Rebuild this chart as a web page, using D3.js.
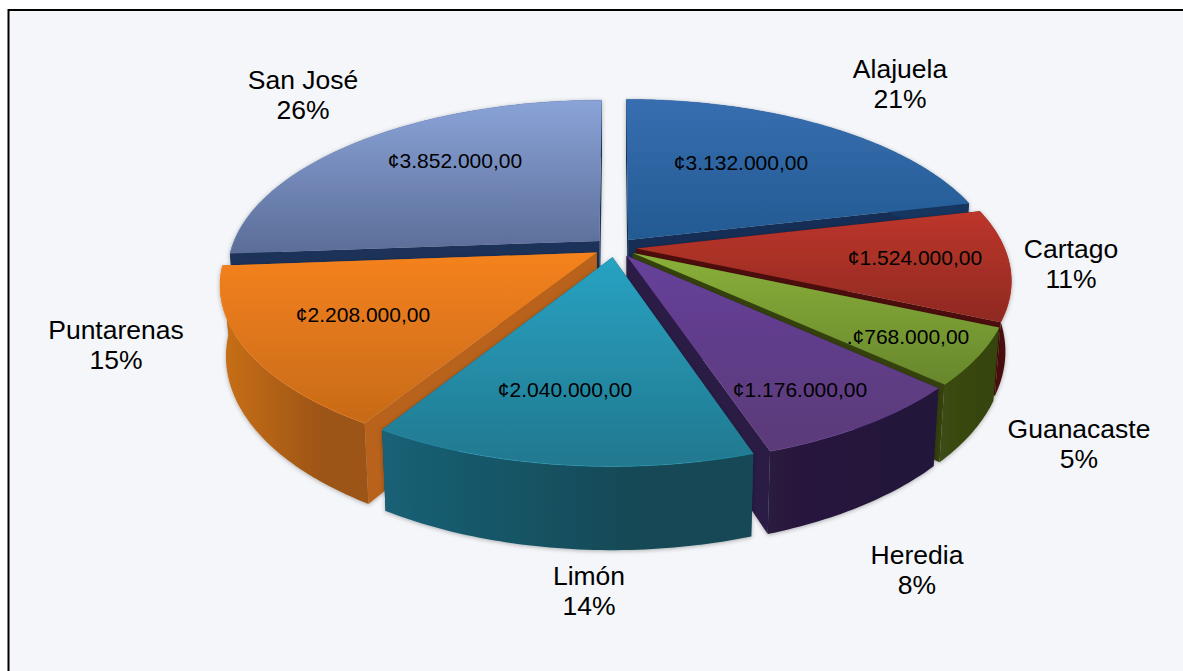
<!DOCTYPE html>
<html>
<head>
<meta charset="utf-8">
<style>
html, body { margin: 0; padding: 0; background: #fff; }
svg { display: block; }
svg text { font-family: "Liberation Sans", Arial, sans-serif; fill: #000; text-anchor: middle; }
.name { font-size: 26.5px; }
.amount { font-size: 21px; }
</style>
</head>
<body>
<div id="container"></div>
<script src="https://d3js.org/d3.v7.min.js"></script>
<script>
const width = 1183, height = 671;

const names = ["Alajuela", "Cartago", "Guanacaste", "Heredia", "Limón", "Puntarenas", "San José"];
const amounts = [3132000, 1524000, 768000, 1176000, 2040000, 2208000, 3852000];
const amountLabels = ["¢3.132.000,00", "¢1.524.000,00", ".¢768.000,00", "¢1.176.000,00", "¢2.040.000,00", "¢2.208.000,00", "¢3.852.000,00"];
const percents = ["21%", "11%", "5%", "8%", "14%", "15%", "26%"];

// colours: top light, top dark, wall left, wall right, cut face
const topLight = ["#376eb0", "#bd352b", "#8ab03a", "#66409a", "#28a2c2", "#f5821f", "#8aa3d8"];
const topDark = ["#235a92", "#8f2a22", "#67872c", "#5b3a78", "#22788f", "#c76a18", "#5b6d97"];
const wallLeft = ["#17365f", "#5c1410", "#3c4c12", "#2a1a3e", "#1a6176", "#c9701a", "#1f3358"];
const wallRight = ["#17365f", "#4a0f0d", "#364410", "#24163a", "#134855", "#9c5412", "#1f3358"];
const cutFace = ["#122f55", "#4d0f0c", "#35430f", "#2b1a45", "#134855", "#b8621a", "#1f3358"];

// label placement, same order as names
const nameX = [900, 1071, 1079, 917, 589, 116, 303];
const nameY = [78, 258, 438, 564, 585, 339, 89];
const amountX = [741, 915, 908, 800, 565, 363, 455];
const amountY = [170, 265, 344, 397, 397, 322, 168];

// order the slices get painted, back to front
const paintOrder = [6, 0, 1, 2, 3, 5, 4];

const cx = 615, cy = 247.5;
const rx = 368, ry = 168;
const persp = 0.178, explode = 0.058, depth = 68, shrink = 0.985;

// flat pie coordinates -> screen, with perspective to the front
function project(px, pz, drop) {
    const w = 1 - persp * pz;
    const f = drop ? shrink : 1;
    return [cx + f * rx * px / w, cy + (ry * pz + (drop || 0)) / w];
}

const pieData = d3.pie().sort(null).value(d => d).startAngle(0).endAngle(2 * Math.PI)(amounts);

function apexOf(d) {
    const m = (d.startAngle + d.endAngle) / 2;
    return [explode * Math.sin(m), -explode * Math.cos(m)];
}
function rimPoint(d, a) {
    const o = apexOf(d);
    return [o[0] + Math.sin(a), o[1] - Math.cos(a)];
}
function rimAngles(d) {
    const n = Math.ceil((d.endAngle - d.startAngle) * 60);
    return d3.range(n + 1).map(i => d.startAngle + (d.endAngle - d.startAngle) * i / n);
}

const line = d3.line();

const svg = d3.select("#container").append("svg")
    .attr("width", width).attr("height", height);

const defs = svg.append("defs");
defs.append("filter").attr("id", "soft")
    .attr("x", "-5%").attr("y", "-5%").attr("width", "110%").attr("height", "110%")
    .append("feGaussianBlur").attr("stdDeviation", 0.6);
defs.append("filter").attr("id", "shadow")
    .attr("x", "-10%").attr("y", "-10%").attr("width", "120%").attr("height", "120%")
    .append("feDropShadow")
    .attr("dx", 0).attr("dy", 1).attr("stdDeviation", 2)
    .attr("flood-color", "#000").attr("flood-opacity", 0.3);

// panel has only a left and top edge, it runs off the page on the others
svg.append("rect")
    .attr("x", 8).attr("y", 9)
    .attr("width", width - 8).attr("height", height - 9)
    .attr("fill", "#f4f6f9");
svg.append("path")
    .attr("d", line([[8.5, height], [8.5, 10], [width, 10]]))
    .attr("fill", "none").attr("stroke", "#000").attr("stroke-width", 2);

pieData.forEach((d, i) => {
    const t = defs.append("linearGradient").attr("id", "top" + i)
        .attr("x1", 0).attr("y1", 0).attr("x2", 0).attr("y2", 1);
    t.append("stop").attr("offset", 0).attr("stop-color", topLight[i]);
    t.append("stop").attr("offset", 1).attr("stop-color", topDark[i]);
    const s = defs.append("linearGradient").attr("id", "wall" + i)
        .attr("x1", 0).attr("y1", 0).attr("x2", 1).attr("y2", 0);
    s.append("stop").attr("offset", 0).attr("stop-color", wallLeft[i]);
    s.append("stop").attr("offset", 0.7).attr("stop-color", wallRight[i]);
    s.append("stop").attr("offset", 1).attr("stop-color", wallRight[i]);
});

const slices = svg.append("g").selectAll("g")
    .data(paintOrder)
    .join("g")
    .attr("class", "slice")
    .attr("filter", "url(#shadow)");

slices.each(function (i) {
    const d = pieData[i], g = d3.select(this);
    const apex = apexOf(d);
    const rim = rimAngles(d).map(a => rimPoint(d, a));
    const first = rim[0], last = rim[rim.length - 1];

    // cut faces
    [first, last].forEach(p => {
        g.append("path")
            .attr("d", line([project(apex[0], apex[1]), project(p[0], p[1]),
                project(p[0], p[1], depth), project(apex[0], apex[1], depth)]) + "Z")
            .attr("fill", cutFace[i]);
    });
    // outer wall
    const wall = rim.map(p => project(p[0], p[1]))
        .concat(rim.slice().reverse().map(p => project(p[0], p[1], depth)));
    g.append("path").attr("d", line(wall) + "Z")
        .attr("fill", `url(#wall${i})`)
        .attr("filter", "url(#soft)");
    // top
    const top = [project(apex[0], apex[1])].concat(rim.map(p => project(p[0], p[1])));
    g.append("path").attr("d", line(top) + "Z")
        .attr("fill", `url(#top${i})`);
    // thin lit edge along the rim
    g.append("path").attr("d", line(rim.map(p => project(p[0], p[1]))))
        .attr("fill", "none").attr("stroke", topLight[i])
        .attr("stroke-width", 1).attr("stroke-opacity", 0.5);
});

const labels = svg.append("g");
names.forEach((n, i) => {
    const t = labels.append("text").attr("class", "name").attr("x", nameX[i]).attr("y", nameY[i]);
    t.append("tspan").attr("x", nameX[i]).text(n);
    t.append("tspan").attr("x", nameX[i]).attr("dy", 30).text(percents[i]);
    labels.append("text").attr("class", "amount")
        .attr("x", amountX[i]).attr("y", amountY[i]).text(amountLabels[i]);
});
</script>
</body>
</html>
